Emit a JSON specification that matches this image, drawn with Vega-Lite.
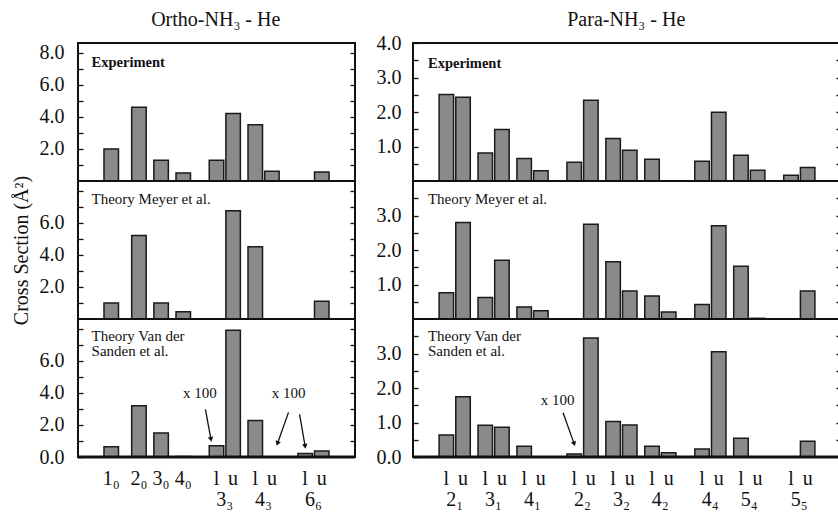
{
  "$schema": "https://vega.github.io/schema/vega-lite/v6.json",
  "background": "white",
  "padding": {"left": 10, "top": 9, "right": 0, "bottom": 0},
  "config": {
    "font": "Liberation Serif",
    "view": {"stroke": "#111", "strokeWidth": 2},
    "axis": {"labelFont": "Liberation Serif", "labelColor": "#111", "labelFontSize": 20, "tickColor": "#111", "tickWidth": 1.3, "grid": false, "domain": false, "labelOverlap": false, "labelFlush": false, "labelBound": false, "titleFont": "Liberation Serif", "titleFontWeight": "normal", "titleColor": "#111"},
    "title": {"font": "Liberation Serif", "fontWeight": "normal", "color": "#111"},
    "text": {"font": "Liberation Serif", "color": "#111"}
  },
  "datasets": {
    "ortho": [
      {"method": "Experiment", "slot": "1₀", "value": 2.0},
      {"method": "Experiment", "slot": "2₀", "value": 4.6},
      {"method": "Experiment", "slot": "3₀", "value": 1.3},
      {"method": "Experiment", "slot": "4₀", "value": 0.5},
      {"method": "Experiment", "slot": "3₃ l", "value": 1.3},
      {"method": "Experiment", "slot": "3₃ u", "value": 4.2},
      {"method": "Experiment", "slot": "4₃ l", "value": 3.5},
      {"method": "Experiment", "slot": "4₃ u", "value": 0.6},
      {"method": "Experiment", "slot": "6₆ u", "value": 0.56},
      {"method": "Meyer", "slot": "1₀", "value": 1.0},
      {"method": "Meyer", "slot": "2₀", "value": 5.2},
      {"method": "Meyer", "slot": "3₀", "value": 1.0},
      {"method": "Meyer", "slot": "4₀", "value": 0.45},
      {"method": "Meyer", "slot": "3₃ u", "value": 6.75},
      {"method": "Meyer", "slot": "4₃ l", "value": 4.5},
      {"method": "Meyer", "slot": "6₆ u", "value": 1.1},
      {"method": "VanderSanden", "slot": "1₀", "value": 0.64},
      {"method": "VanderSanden", "slot": "2₀", "value": 3.2},
      {"method": "VanderSanden", "slot": "3₀", "value": 1.5},
      {"method": "VanderSanden", "slot": "4₀", "value": 0.03},
      {"method": "VanderSanden", "slot": "3₃ l", "value": 0.7},
      {"method": "VanderSanden", "slot": "3₃ u", "value": 7.9},
      {"method": "VanderSanden", "slot": "4₃ l", "value": 2.27},
      {"method": "VanderSanden", "slot": "6₆ l", "value": 0.22},
      {"method": "VanderSanden", "slot": "6₆ u", "value": 0.38}
    ],
    "para": [
      {"method": "Experiment", "slot": "2₁ l", "value": 2.51},
      {"method": "Experiment", "slot": "2₁ u", "value": 2.43},
      {"method": "Experiment", "slot": "3₁ l", "value": 0.81},
      {"method": "Experiment", "slot": "3₁ u", "value": 1.49},
      {"method": "Experiment", "slot": "4₁ l", "value": 0.65},
      {"method": "Experiment", "slot": "4₁ u", "value": 0.3},
      {"method": "Experiment", "slot": "2₂ l", "value": 0.54},
      {"method": "Experiment", "slot": "2₂ u", "value": 2.34},
      {"method": "Experiment", "slot": "3₂ l", "value": 1.23},
      {"method": "Experiment", "slot": "3₂ u", "value": 0.89},
      {"method": "Experiment", "slot": "4₂ l", "value": 0.63},
      {"method": "Experiment", "slot": "4₄ l", "value": 0.57},
      {"method": "Experiment", "slot": "4₄ u", "value": 1.99},
      {"method": "Experiment", "slot": "5₄ l", "value": 0.75},
      {"method": "Experiment", "slot": "5₄ u", "value": 0.31},
      {"method": "Experiment", "slot": "5₅ l", "value": 0.17},
      {"method": "Experiment", "slot": "5₅ u", "value": 0.39},
      {"method": "Meyer", "slot": "2₁ l", "value": 0.76},
      {"method": "Meyer", "slot": "2₁ u", "value": 2.8},
      {"method": "Meyer", "slot": "3₁ l", "value": 0.62},
      {"method": "Meyer", "slot": "3₁ u", "value": 1.7},
      {"method": "Meyer", "slot": "4₁ l", "value": 0.35},
      {"method": "Meyer", "slot": "4₁ u", "value": 0.24},
      {"method": "Meyer", "slot": "2₂ u", "value": 2.75},
      {"method": "Meyer", "slot": "3₂ l", "value": 1.66},
      {"method": "Meyer", "slot": "3₂ u", "value": 0.81},
      {"method": "Meyer", "slot": "4₂ l", "value": 0.67},
      {"method": "Meyer", "slot": "4₂ u", "value": 0.2},
      {"method": "Meyer", "slot": "4₄ l", "value": 0.42},
      {"method": "Meyer", "slot": "4₄ u", "value": 2.7},
      {"method": "Meyer", "slot": "5₄ l", "value": 1.53},
      {"method": "Meyer", "slot": "5₄ u", "value": 0.02},
      {"method": "Meyer", "slot": "5₅ u", "value": 0.81},
      {"method": "VanderSanden", "slot": "2₁ l", "value": 0.64},
      {"method": "VanderSanden", "slot": "2₁ u", "value": 1.75},
      {"method": "VanderSanden", "slot": "3₁ l", "value": 0.92},
      {"method": "VanderSanden", "slot": "3₁ u", "value": 0.86},
      {"method": "VanderSanden", "slot": "4₁ l", "value": 0.31},
      {"method": "VanderSanden", "slot": "2₂ l", "value": 0.09},
      {"method": "VanderSanden", "slot": "2₂ u", "value": 3.45},
      {"method": "VanderSanden", "slot": "3₂ l", "value": 1.03},
      {"method": "VanderSanden", "slot": "3₂ u", "value": 0.93},
      {"method": "VanderSanden", "slot": "4₂ l", "value": 0.31},
      {"method": "VanderSanden", "slot": "4₂ u", "value": 0.12},
      {"method": "VanderSanden", "slot": "4₄ l", "value": 0.23},
      {"method": "VanderSanden", "slot": "4₄ u", "value": 3.05},
      {"method": "VanderSanden", "slot": "5₄ l", "value": 0.54},
      {"method": "VanderSanden", "slot": "5₅ u", "value": 0.46}
    ],
    "orthoLevels": [
      {"slot": "3₃ l", "level": "3₃"},
      {"slot": "4₃ l", "level": "4₃"},
      {"slot": "6₆ l", "level": "6₆"}
    ],
    "paraLevels": [
      {"slot": "2₁ l", "level": "2₁"},
      {"slot": "3₁ l", "level": "3₁"},
      {"slot": "4₁ l", "level": "4₁"},
      {"slot": "2₂ l", "level": "2₂"},
      {"slot": "3₂ l", "level": "3₂"},
      {"slot": "4₂ l", "level": "4₂"},
      {"slot": "4₄ l", "level": "4₄"},
      {"slot": "5₄ l", "level": "5₄"},
      {"slot": "5₅ l", "level": "5₅"}
    ],
    "orthoNotes": [
      {"slot": "~16", "value": 4.0, "note": "x 100"},
      {"slot": "~32", "value": 4.0, "note": "x 100"}
    ],
    "orthoArrows": [
      {"slot": "~17", "value": 2.97, "slot2": "~18", "value2": 1.1},
      {"slot": "~32", "value": 2.78, "slot2": "~30", "value2": 0.84},
      {"slot": "~34", "value": 2.66, "slot2": "6₆ l", "value2": 0.66}
    ],
    "paraNotes": [
      {"slot": "~20", "value": 1.64, "note": "x 100"}
    ],
    "paraArrows": [
      {"slot": "~21", "value": 1.28, "slot2": "2₂ l", "value2": 0.38}
    ]
  },
  "spacing": 17,
  "hconcat": [
    {
      "title": {"text": "Ortho-NH₃ - He", "fontSize": 20, "anchor": "middle", "dx": 32, "offset": 12},
      "spacing": 0,
      "bounds": "flush",
      "vconcat": [
        {
          "width": 277, "height": 138,
          "layer": [
            {
              "data": {"name": "ortho"},
              "transform": [{"filter": "datum.method == 'Experiment'"}],
              "mark": {"type": "bar", "width": 14.5, "fill": "#8a8a8a", "stroke": "#1a1a1a", "strokeWidth": 1.5},
              "encoding": {
                "x": {"field": "slot", "type": "nominal", "sort": null, "axis": null,
                      "scale": {"domain": ["~a1","~a2","~a3","~a4","~a5","1₀","~1","~2","~3","~4","2₀","~6","~7","~8","3₀","~10","~11","~12","4₀","~14","~15","~16","~17","~18","3₃ l","~20","~21","3₃ u","~23","~24","~25","4₃ l","~27","~28","4₃ u","~30","~31","~32","~33","~34","6₆ l","~36","~37","6₆ u","~b1","~b2","~b3","~b4","~b5"], "paddingInner": 0, "paddingOuter": 0.5}},
                "y": {"field": "value", "type": "quantitative", "scale": {"domain": [0, 8.6], "nice": false},
                      "axis": {"orient": "left", "title": null, "values": [1,2,3,4,5,6,7,8], "labelExpr": "datum.value % 2 == 0 ? format(datum.value, '.1f') : ''", "tickSize": -5, "labelPadding": 19}}
              }
            },
            {
              "data": {"values": [{}]},
              "mark": {"type": "rule", "color": "#111", "strokeWidth": 1},
              "encoding": {"y": {"datum": 0, "type": "quantitative", "axis": {"orient": "right", "labels": false, "title": null, "values": [1,2,3,4,5,6,7,8], "tickSize": -5}}}
            },
            {
              "data": {"values": [{"slot": "~a1", "label": "Experiment"}]},
              "mark": {"type": "text", "fontSize": 14.5, "fontWeight": "bold", "align": "left", "baseline": "middle", "dx": 8, "dy": 20},
              "encoding": {"x": {"field": "slot", "type": "nominal"}, "y": {"datum": 8.6, "type": "quantitative", "axis": null}, "text": {"field": "label"}}
            }
          ],
          "resolve": {"axis": {"y": "independent"}}
        },
        {
          "width": 277, "height": 138,
          "layer": [
            {
              "data": {"name": "ortho"},
              "transform": [{"filter": "datum.method == 'Meyer'"}],
              "mark": {"type": "bar", "width": 14.5, "fill": "#8a8a8a", "stroke": "#1a1a1a", "strokeWidth": 1.5},
              "encoding": {
                "x": {"field": "slot", "type": "nominal", "sort": null, "axis": null,
                      "scale": {"domain": ["~a1","~a2","~a3","~a4","~a5","1₀","~1","~2","~3","~4","2₀","~6","~7","~8","3₀","~10","~11","~12","4₀","~14","~15","~16","~17","~18","3₃ l","~20","~21","3₃ u","~23","~24","~25","4₃ l","~27","~28","4₃ u","~30","~31","~32","~33","~34","6₆ l","~36","~37","6₆ u","~b1","~b2","~b3","~b4","~b5"], "paddingInner": 0, "paddingOuter": 0.5}},
                "y": {"field": "value", "type": "quantitative", "scale": {"domain": [0, 8.6], "nice": false},
                      "axis": {"orient": "left", "title": "Cross Section (Å²)", "titleFontSize": 20, "titlePadding": 8, "values": [1,2,3,4,5,6,7,8], "labelExpr": "datum.value % 2 == 0 && datum.value < 8 ? format(datum.value, '.1f') : ''", "tickSize": -5, "labelPadding": 19}}
              }
            },
            {
              "data": {"values": [{}]},
              "mark": {"type": "rule", "color": "#111", "strokeWidth": 1},
              "encoding": {"y": {"datum": 0, "type": "quantitative", "axis": {"orient": "right", "labels": false, "title": null, "values": [1,2,3,4,5,6,7,8], "tickSize": -5}}}
            },
            {
              "data": {"values": [{"slot": "~a1", "label": "Theory Meyer et al."}]},
              "mark": {"type": "text", "fontSize": 15, "align": "left", "baseline": "middle", "dx": 8, "dy": 18},
              "encoding": {"x": {"field": "slot", "type": "nominal"}, "y": {"datum": 8.6, "type": "quantitative", "axis": null}, "text": {"field": "label"}}
            }
          ],
          "resolve": {"axis": {"y": "independent"}}
        },
        {
          "width": 277, "height": 138,
          "layer": [
            {
              "data": {"name": "ortho"},
              "transform": [{"filter": "datum.method == 'VanderSanden'"}],
              "mark": {"type": "bar", "width": 14.5, "fill": "#8a8a8a", "stroke": "#1a1a1a", "strokeWidth": 1.5},
              "encoding": {
                "x": {"field": "slot", "type": "nominal", "sort": null,
                      "axis": {"title": null, "ticks": false, "domain": false, "labelAngle": 0, "labelPadding": 11, "labelLimit": 0, "labelAlign": "center", "labelBaseline": "top",
                               "labelExpr": "indexof(datum.value, '~') == 0 ? '' : (indexof(datum.value, ' ') > 0 ? slice(datum.value, -1) : datum.value)"},
                      "scale": {"domain": ["~a1","~a2","~a3","~a4","~a5","1₀","~1","~2","~3","~4","2₀","~6","~7","~8","3₀","~10","~11","~12","4₀","~14","~15","~16","~17","~18","3₃ l","~20","~21","3₃ u","~23","~24","~25","4₃ l","~27","~28","4₃ u","~30","~31","~32","~33","~34","6₆ l","~36","~37","6₆ u","~b1","~b2","~b3","~b4","~b5"], "paddingInner": 0, "paddingOuter": 0.5}},
                "y": {"field": "value", "type": "quantitative", "scale": {"domain": [0, 8.6], "nice": false},
                      "axis": {"orient": "left", "title": null, "values": [0,1,2,3,4,5,6,7,8], "labelExpr": "datum.value % 2 == 0 && datum.value < 8 ? format(datum.value, '.1f') : ''", "tickSize": -5, "labelPadding": 19}}
              }
            },
            {
              "data": {"values": [{}]},
              "mark": {"type": "rule", "color": "#111", "strokeWidth": 3},
              "encoding": {"y": {"datum": 0, "type": "quantitative", "axis": {"orient": "right", "labels": false, "title": null, "values": [1,2,3,4,5,6,7,8], "tickSize": -5}}}
            },
            {
              "data": {"values": [{"slot": "~a1", "label": ["Theory Van der", "Sanden et al."]}]},
              "mark": {"type": "text", "fontSize": 15, "align": "left", "baseline": "top", "lineHeight": 15, "dx": 8, "dy": 10},
              "encoding": {"x": {"field": "slot", "type": "nominal"}, "y": {"datum": 8.6, "type": "quantitative", "axis": null}, "text": {"field": "label"}}
            },
            {
              "data": {"name": "orthoLevels"},
              "mark": {"type": "text", "fontSize": 20, "dx": 8.3, "dy": 49, "baseline": "alphabetic"},
              "encoding": {
                "x": {"field": "slot", "type": "nominal"},
                "y": {"datum": 0, "type": "quantitative", "axis": null},
                "text": {"field": "level"}
              }
            },
            {
              "data": {"name": "orthoArrows"},
              "mark": {"type": "rule", "color": "#111", "strokeWidth": 1.3},
              "encoding": {
                "x": {"field": "slot", "type": "nominal"},
                "x2": {"field": "slot2"},
                "y": {"field": "value", "type": "quantitative", "axis": null},
                "y2": {"field": "value2"}
              }
            },
            {
              "data": {"name": "orthoArrows"},
              "transform": [{"filter": "datum.slot != '~32'"}],
              "mark": {"type": "point", "shape": "triangle-down", "filled": true, "size": 30, "angle": -10, "color": "#111", "opacity": 1},
              "encoding": {
                "x": {"field": "slot2", "type": "nominal"},
                "y": {"field": "value2", "type": "quantitative", "axis": null}
              }
            },
            {
              "data": {"name": "orthoArrows"},
              "transform": [{"filter": "datum.slot == '~32'"}],
              "mark": {"type": "point", "shape": "triangle-down", "filled": true, "size": 30, "angle": 20, "color": "#111", "opacity": 1},
              "encoding": {
                "x": {"field": "slot2", "type": "nominal"},
                "y": {"field": "value2", "type": "quantitative", "axis": null}
              }
            },
            {
              "data": {"name": "orthoNotes"},
              "mark": {"type": "text", "fontSize": 15, "baseline": "middle"},
              "encoding": {
                "x": {"field": "slot", "type": "nominal"},
                "y": {"field": "value", "type": "quantitative", "axis": null},
                "text": {"field": "note"}
              }
            }
          ],
          "resolve": {"axis": {"y": "independent"}}
        }
      ]
    },
    {
      "title": {"text": "Para-NH₃ - He", "fontSize": 20, "anchor": "middle", "dx": 17, "offset": 2},
      "spacing": 0,
      "bounds": "flush",
      "vconcat": [
        {
          "width": 428, "height": 138,
          "layer": [
            {
              "data": {"name": "para"},
              "transform": [{"filter": "datum.method == 'Experiment'"}],
              "mark": {"type": "bar", "width": 14.5, "fill": "#8a8a8a", "stroke": "#1a1a1a", "strokeWidth": 1.5},
              "encoding": {
                "x": {"field": "slot", "type": "nominal", "sort": null, "axis": null,
                      "scale": {"domain": ["~a1","~a2","~a3","~a4","~a5","2₁ l","~1","~2","2₁ u","~4","~5","~6","3₁ l","~8","~9","3₁ u","~11","~12","~13","4₁ l","~15","~16","4₁ u","~18","~19","~20","~21","~22","2₂ l","~24","~25","2₂ u","~27","~28","~29","3₂ l","~31","~32","3₂ u","~34","~35","~36","4₂ l","~38","~39","4₂ u","~41","~42","~43","~44","~45","4₄ l","~47","~48","4₄ u","~50","~51","~52","5₄ l","~54","~55","5₄ u","~57","~58","~59","~60","~61","5₅ l","~63","~64","5₅ u","~b1","~b2","~b3","~b4","~b5"], "paddingInner": 0, "paddingOuter": 0.5}},
                "y": {"field": "value", "type": "quantitative", "scale": {"domain": [0, 4], "nice": false},
                      "axis": {"orient": "left", "title": null, "values": [0.5,1,1.5,2,2.5,3,3.5,4], "labelExpr": "datum.value % 1 == 0 ? format(datum.value, '.1f') : ''", "tickSize": -5, "labelPadding": 17}}
              }
            },
            {
              "data": {"values": [{}]},
              "mark": {"type": "rule", "color": "#111", "strokeWidth": 1},
              "encoding": {"y": {"datum": 0, "type": "quantitative", "axis": {"orient": "right", "labels": false, "title": null, "values": [0.5,1,1.5,2,2.5,3,3.5], "tickSize": -5}}}
            },
            {
              "data": {"values": [{"slot": "~a1", "label": "Experiment"}]},
              "mark": {"type": "text", "fontSize": 14.5, "fontWeight": "bold", "align": "left", "baseline": "middle", "dx": 9.4, "dy": 21},
              "encoding": {"x": {"field": "slot", "type": "nominal"}, "y": {"datum": 4, "type": "quantitative", "axis": null}, "text": {"field": "label"}}
            }
          ],
          "resolve": {"axis": {"y": "independent"}}
        },
        {
          "width": 428, "height": 138,
          "layer": [
            {
              "data": {"name": "para"},
              "transform": [{"filter": "datum.method == 'Meyer'"}],
              "mark": {"type": "bar", "width": 14.5, "fill": "#8a8a8a", "stroke": "#1a1a1a", "strokeWidth": 1.5},
              "encoding": {
                "x": {"field": "slot", "type": "nominal", "sort": null, "axis": null,
                      "scale": {"domain": ["~a1","~a2","~a3","~a4","~a5","2₁ l","~1","~2","2₁ u","~4","~5","~6","3₁ l","~8","~9","3₁ u","~11","~12","~13","4₁ l","~15","~16","4₁ u","~18","~19","~20","~21","~22","2₂ l","~24","~25","2₂ u","~27","~28","~29","3₂ l","~31","~32","3₂ u","~34","~35","~36","4₂ l","~38","~39","4₂ u","~41","~42","~43","~44","~45","4₄ l","~47","~48","4₄ u","~50","~51","~52","5₄ l","~54","~55","5₄ u","~57","~58","~59","~60","~61","5₅ l","~63","~64","5₅ u","~b1","~b2","~b3","~b4","~b5"], "paddingInner": 0, "paddingOuter": 0.5}},
                "y": {"field": "value", "type": "quantitative", "scale": {"domain": [0, 4], "nice": false},
                      "axis": {"orient": "left", "title": null, "values": [0.5,1,1.5,2,2.5,3,3.5], "labelExpr": "datum.value % 1 == 0 ? format(datum.value, '.1f') : ''", "tickSize": -5, "labelPadding": 17}}
              }
            },
            {
              "data": {"values": [{}]},
              "mark": {"type": "rule", "color": "#111", "strokeWidth": 1},
              "encoding": {"y": {"datum": 0, "type": "quantitative", "axis": {"orient": "right", "labels": false, "title": null, "values": [0.5,1,1.5,2,2.5,3,3.5], "tickSize": -5}}}
            },
            {
              "data": {"values": [{"slot": "~a1", "label": "Theory Meyer et al."}]},
              "mark": {"type": "text", "fontSize": 15, "align": "left", "baseline": "middle", "dx": 9.4, "dy": 18},
              "encoding": {"x": {"field": "slot", "type": "nominal"}, "y": {"datum": 4, "type": "quantitative", "axis": null}, "text": {"field": "label"}}
            }
          ],
          "resolve": {"axis": {"y": "independent"}}
        },
        {
          "width": 428, "height": 138,
          "layer": [
            {
              "data": {"name": "para"},
              "transform": [{"filter": "datum.method == 'VanderSanden'"}],
              "mark": {"type": "bar", "width": 14.5, "fill": "#8a8a8a", "stroke": "#1a1a1a", "strokeWidth": 1.5},
              "encoding": {
                "x": {"field": "slot", "type": "nominal", "sort": null,
                      "axis": {"title": null, "ticks": false, "domain": false, "labelAngle": 0, "labelPadding": 11, "labelLimit": 0, "labelAlign": "center", "labelBaseline": "top",
                               "labelExpr": "indexof(datum.value, '~') == 0 ? '' : (indexof(datum.value, ' ') > 0 ? slice(datum.value, -1) : datum.value)"},
                      "scale": {"domain": ["~a1","~a2","~a3","~a4","~a5","2₁ l","~1","~2","2₁ u","~4","~5","~6","3₁ l","~8","~9","3₁ u","~11","~12","~13","4₁ l","~15","~16","4₁ u","~18","~19","~20","~21","~22","2₂ l","~24","~25","2₂ u","~27","~28","~29","3₂ l","~31","~32","3₂ u","~34","~35","~36","4₂ l","~38","~39","4₂ u","~41","~42","~43","~44","~45","4₄ l","~47","~48","4₄ u","~50","~51","~52","5₄ l","~54","~55","5₄ u","~57","~58","~59","~60","~61","5₅ l","~63","~64","5₅ u","~b1","~b2","~b3","~b4","~b5"], "paddingInner": 0, "paddingOuter": 0.5}},
                "y": {"field": "value", "type": "quantitative", "scale": {"domain": [0, 4], "nice": false},
                      "axis": {"orient": "left", "title": null, "values": [0,0.5,1,1.5,2,2.5,3,3.5], "labelExpr": "datum.value % 1 == 0 ? format(datum.value, '.1f') : ''", "tickSize": -5, "labelPadding": 17}}
              }
            },
            {
              "data": {"values": [{}]},
              "mark": {"type": "rule", "color": "#111", "strokeWidth": 3},
              "encoding": {"y": {"datum": 0, "type": "quantitative", "axis": {"orient": "right", "labels": false, "title": null, "values": [0.5,1,1.5,2,2.5,3,3.5], "tickSize": -5}}}
            },
            {
              "data": {"values": [{"slot": "~a1", "label": ["Theory Van der", "Sanden et al."]}]},
              "mark": {"type": "text", "fontSize": 15, "align": "left", "baseline": "top", "lineHeight": 15, "dx": 9.4, "dy": 10},
              "encoding": {"x": {"field": "slot", "type": "nominal"}, "y": {"datum": 4, "type": "quantitative", "axis": null}, "text": {"field": "label"}}
            },
            {
              "data": {"name": "paraLevels"},
              "mark": {"type": "text", "fontSize": 20, "dx": 8.3, "dy": 49, "baseline": "alphabetic"},
              "encoding": {
                "x": {"field": "slot", "type": "nominal"},
                "y": {"datum": 0, "type": "quantitative", "axis": null},
                "text": {"field": "level"}
              }
            },
            {
              "data": {"name": "paraArrows"},
              "mark": {"type": "rule", "color": "#111", "strokeWidth": 1.3},
              "encoding": {
                "x": {"field": "slot", "type": "nominal"},
                "x2": {"field": "slot2"},
                "y": {"field": "value", "type": "quantitative", "axis": null},
                "y2": {"field": "value2"}
              }
            },
            {
              "data": {"name": "paraArrows"},
              "mark": {"type": "point", "shape": "triangle-down", "filled": true, "size": 30, "angle": -20, "color": "#111", "opacity": 1},
              "encoding": {
                "x": {"field": "slot2", "type": "nominal"},
                "y": {"field": "value2", "type": "quantitative", "axis": null}
              }
            },
            {
              "data": {"name": "paraNotes"},
              "mark": {"type": "text", "fontSize": 15, "baseline": "middle"},
              "encoding": {
                "x": {"field": "slot", "type": "nominal"},
                "y": {"field": "value", "type": "quantitative", "axis": null},
                "text": {"field": "note"}
              }
            }
          ],
          "resolve": {"axis": {"y": "independent"}}
        }
      ]
    }
  ]
}
